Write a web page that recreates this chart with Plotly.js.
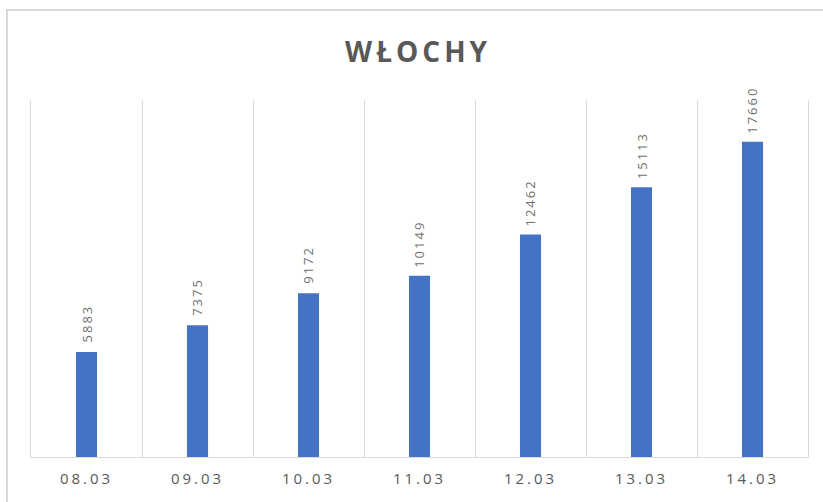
<!DOCTYPE html>
<html>
<head>
<meta charset="utf-8">
<script src="https://cdn.plot.ly/plotly-3.0.1.min.js"></script>
<style>
  html, body { margin: 0; padding: 0; background: #ffffff; overflow: hidden; }
  #wrap { position: relative; width: 823px; height: 502px; overflow: hidden; }
  #chart { position: absolute; left: 0; top: 0; width: 823px; height: 502px; }
  #frame { position: absolute; left: 6px; top: 9px; width: 900px; height: 600px;
           border-left: 2px solid #d9d9d9; border-top: 2px solid #d9d9d9; pointer-events: none; }
  .xtick text { letter-spacing: 3px; }
  .gtitle { letter-spacing: 4px; }
  .annotation text { letter-spacing: 2px; }
</style>
</head>
<body>
<div id="wrap">
  <div id="chart"></div>
  <div id="frame"></div>
</div>
<script>
const chartTitle = "WŁOCHY";
const categories = ["08.03", "09.03", "10.03", "11.03", "12.03", "13.03", "14.03"];
const values = [5883, 7375, 9172, 10149, 12462, 15113, 17660];

const textColor = "#595959";
const labelColor = "#6f6f6f";
const barColor = "#4472C4";
const gridColor = "#d9d9d9";

const trace = {
  type: "bar",
  x: categories,
  y: values,
  width: 0.19,
  marker: { color: barColor },
  hoverinfo: "skip"
};

const annotations = categories.map((c, i) => ({
  x: i,
  y: values[i],
  xref: "x",
  yref: "y",
  text: String(values[i]),
  showarrow: false,
  textangle: -90,
  yanchor: "bottom",
  xanchor: "center",
  yshift: 11,
  font: { family: "Open Sans, sans-serif", size: 13, color: labelColor }
}));

const layout = {
  width: 823,
  height: 502,
  paper_bgcolor: "#ffffff",
  plot_bgcolor: "#ffffff",
  margin: { l: 31, r: 15, t: 100, b: 45 },
  showlegend: false,
  title: {
    text: "<b>" + chartTitle + "</b>",
    font: { family: "Open Sans, sans-serif", size: 28, color: textColor },
    x: 0.508,
    xanchor: "center",
    y: 1 - 52 / 502,
    yanchor: "middle",
    yref: "container"
  },
  xaxis: {
    type: "category",
    tickson: "boundaries",
    showgrid: true,
    gridcolor: gridColor,
    gridwidth: 1,
    showline: true,
    linecolor: gridColor,
    linewidth: 1,
    ticks: "",
    ticklabelstandoff: 8,
    tickfont: { family: "Open Sans, sans-serif", size: 15, color: textColor },
    range: [-0.5, 6.5],
    fixedrange: true
  },
  yaxis: {
    range: [0, 20000],
    showgrid: false,
    zeroline: false,
    showticklabels: false,
    ticks: "",
    showline: true,
    mirror: true,
    linecolor: gridColor,
    linewidth: 1,
    fixedrange: true
  },
  annotations: annotations
};

Plotly.newPlot("chart", [trace], layout, { displayModeBar: false });
</script>
</body>
</html>
